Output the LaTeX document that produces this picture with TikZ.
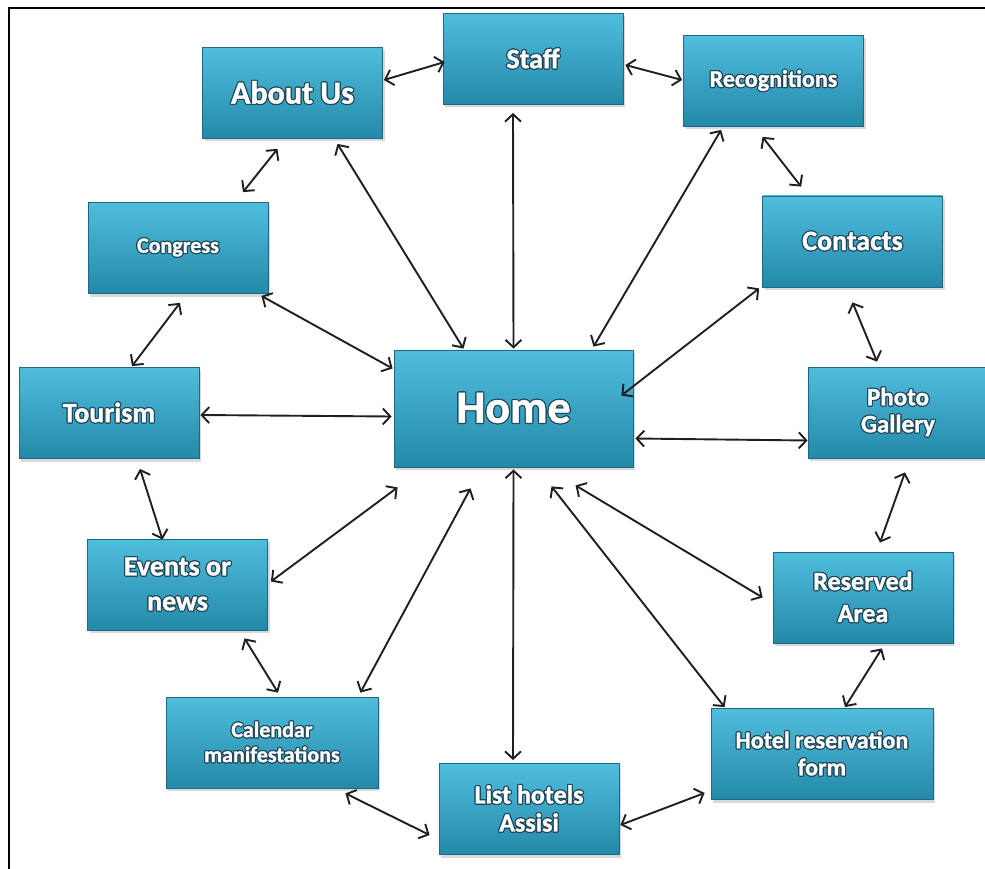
\documentclass[tikz,border=0pt]{standalone}
\usepackage{fontspec}
\usepackage[copies]{contour}
\usetikzlibrary{arrows.meta}
\usetikzlibrary{shadows}
\newfontfamily\boxfont{Carlito}[BoldFeatures={FakeBold=1.2}]
\definecolor{boxtop}{RGB}{80,189,220}
\definecolor{boxbot}{RGB}{36,137,169}
\definecolor{boxedge}{RGB}{30,104,130}
\definecolor{glow}{RGB}{32,72,90}
\contourlength{1.1pt}
\newcommand{\lbl}[1]{\contour{glow}{#1}}
\tikzset{page/.style = {rectangle, inner sep=0pt,
                        minimum width=180pt, minimum height=91pt,
                        top color=boxtop, bottom color=boxbot,
                        draw=boxedge, line width=0.8pt,
                        drop shadow={shadow xshift=2pt, shadow yshift=-3pt, opacity=0.3},
                        text=white, align=center}}
\tikzset{txt/.style 2 args = {font=\boxfont\bfseries\fontsize{#1}{#2}\selectfont}}
\tikzset{link/.style = {<->, line width=1.9pt, draw=black!88,
                        >={Straight Barb[length=7.5pt,width=16pt]}}}

\begin{document}
\begin{tikzpicture}[x=1pt, y=-1pt]
    \useasboundingbox (0,0) rectangle (985,869);
    \draw [line width=2.8pt] (9,869) -- (9,8) -- (985,8);

    % outer ring
    \node [page, txt={28}{32}] (staff) at (533,59) {\lbl{Staff}};
    \node [page, txt={32}{36}] (about) at (292.5,93) {\lbl{About Us}};
    \node [page, txt={24}{28}] (recog) at (773.5,81) {\lbl{Recognitions}};
    \node [page, txt={28}{32}] (contacts) at (852.5,241.5) {\lbl{Contacts}};
    \node [page, txt={25}{27}] (photo) at (898,412.5) {\lbl{Photo}\\\lbl{Gallery}};
    \node [page, txt={26}{32}] (reserved) at (863,597.5) {\lbl{Reserved}\\\lbl{Area}};
    \node [page, txt={24}{27}, minimum width=222pt] (hotelres) at (822,754) {\lbl{Hotel reservation}\\\lbl{form}};
    \node [page, txt={26}{28}] (list) at (529,809) {\lbl{List hotels}\\\lbl{Assisi}};
    \node [page, txt={22}{25}, minimum width=212pt] (calendar) at (272,742.5) {\lbl{Calendar}\\\lbl{manifestations}};
    \node [page, txt={28}{35}] (events) at (177.5,584.5) {\lbl{Events or}\\\lbl{news}};
    \node [page, txt={28}{32}] (tourism) at (109,413) {\lbl{Tourism}};
    \node [page, txt={22}{26}] (congress) at (178,248) {\lbl{Congress}};

    % centre
    \node [page, txt={46}{50}, minimum width=239pt, minimum height=117pt] (home) at (513.5,408.5) {\lbl{Home}};

    % neighbours
    \draw [link] ([shift={(1,-13)}]about.east) -- ([shift={(2,3)}]staff.west);
    \draw [link] ([shift={(2,6)}]staff.east) -- ([shift={(-1,-1)}]recog.west);
    \draw [link] ([shift={(-11,10)}]recog.south) -- ([shift={(39,-9)}]contacts.north west);
    \draw [link] ([shift={(0,15)}]contacts.south) -- ([shift={(-21,-5)}]photo.north);
    \draw [link] ([shift={(7,14)}]photo.south) -- ([shift={(17,-9)}]reserved.north);
    \draw [link] ([shift={(19,5)}]reserved.south) -- ([shift={(23,-1)}]hotelres.north);
    \draw [link] ([shift={(-6,39)}]hotelres.west) -- ([shift={(1,16)}]list.east);
    \draw [link] ([shift={(-9,26)}]list.west) -- ([shift={(-33,5)}]calendar.south east);
    \draw [link] ([shift={(6,-4)}]calendar.north) -- ([shift={(67,8)}]events.south);
    \draw [link] ([shift={(-15,1)}]events.north) -- ([shift={(31,10)}]tourism.south);
    \draw [link] ([shift={(23,-1)}]tourism.north) -- ([shift={(2,9)}]congress.south);
    \draw [link] ([shift={(65,-10)}]congress.north) -- ([shift={(-15,10)}]about.south);

    % spokes from home
    \draw [link] ([shift={(0,-1)}]home.north) -- ([shift={(-20,8)}]staff.south);
    \draw [link] ([shift={(-50,-1)}]home.north) -- ([shift={(45,5)}]about.south);
    \draw [link] ([shift={(80,-3)}]home.north) -- ([shift={(38,3)}]recog.south west);
    \draw [link] ([shift={(-12,-13)}]home.east) -- ([shift={(-3,1)}]contacts.south west);
    \draw [link] ([shift={(2,30)}]home.east) -- ([shift={(0,28)}]photo.west);
    \draw [link] ([shift={(62,18)}]home.south) -- ([shift={(-10,0)}]reserved.west);
    \draw [link] ([shift={(38,19)}]home.south) -- ([shift={(14,-1)}]hotelres.north west);
    \draw [link] ([shift={(0,2)}]home.south) -- ([shift={(-16,-3)}]list.north);
    \draw [link] ([shift={(-43,21)}]home.south) -- ([shift={(-18,-4)}]calendar.north east);
    \draw [link] ([shift={(4,20)}]home.south west) -- ([shift={(3,-3)}]events.east);
    \draw [link] ([shift={(-2,8)}]home.west) -- ([shift={(1,2)}]tourism.east);
    \draw [link] ([shift={(-1,-40)}]home.west) -- ([shift={(-7,2)}]congress.south east);
\end{tikzpicture}
\end{document}
